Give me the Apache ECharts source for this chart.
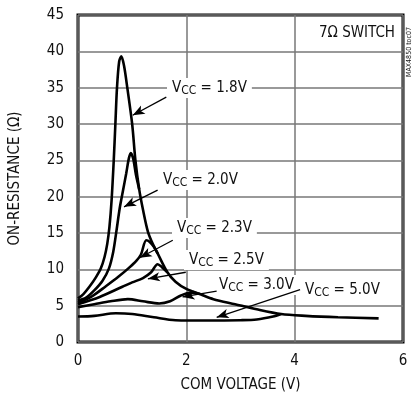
<!DOCTYPE html>
<html>
<head>
<meta charset="utf-8">
<script src="https://cdn.jsdelivr.net/npm/echarts@6.0.0/dist/echarts.min.js"></script>
<style>
  html, body { margin: 0; padding: 0; background: #fff; }
  #chart { width: 413px; height: 399px; }
</style>
</head>
<body>
<div id="chart"></div>
<script>
// on-resistance vs com voltage, one curve per supply voltage
const vcc18 = [[0, 6.0], [0.1, 6.6], [0.21, 7.6], [0.33, 8.9], [0.42, 10.1], [0.49, 11.7], [0.54, 13.5], [0.58, 15.8],
  [0.62, 19.5], [0.66, 25], [0.69, 30], [0.72, 35], [0.76, 38.6], [0.8, 39.3], [0.85, 38], [0.91, 35], [1.0, 30],
  [1.06, 25], [1.13, 21], [1.2, 18.2], [1.29, 15.2], [1.38, 13.5], [1.47, 12.2], [1.65, 9.6], [1.8, 8.3], [2.0, 7.3],
  [2.25, 6.6], [2.5, 5.9], [2.9, 5.2], [3.3, 4.5], [3.75, 3.85], [4.2, 3.6], [4.8, 3.4], [5.55, 3.25]]
const vcc20 = [[0, 5.7], [0.15, 6.1], [0.3, 7.1], [0.45, 8.4], [0.57, 10.1], [0.65, 12.4], [0.71, 15.3], [0.77, 18.4],
  [0.83, 20.8], [0.89, 23.2], [0.94, 25.3], [0.975, 26], [1.02, 25.2], [1.07, 23], [1.13, 21]]
const vcc23 = [[0, 5.4], [0.24, 6.2], [0.52, 7.7], [0.75, 9.0], [0.94, 10.2], [1.08, 11.2], [1.16, 12.0],
  [1.26, 14.0], [1.32, 13.8], [1.4, 13.1], [1.47, 12.2]]
const vcc25 = [[0, 5.2], [0.4, 6.2], [0.82, 7.6], [1.0, 8.2], [1.2, 8.8], [1.35, 9.6], [1.47, 10.7], [1.55, 10.3], [1.65, 9.6]]
const vcc30 = [[0, 4.8], [0.3, 5.2], [0.6, 5.6], [0.92, 5.9], [1.2, 5.6], [1.5, 5.3], [1.7, 5.6], [1.9, 6.4],
  [2.08, 6.8], [2.25, 6.6]]
const vcc50 = [[0, 3.5], [0.3, 3.6], [0.7, 3.95], [1.0, 3.85], [1.4, 3.4], [1.8, 3.0], [2.4, 2.95], [3.0, 3.0],
  [3.3, 3.1], [3.6, 3.5], [3.75, 3.85]]

const curves = [vcc18, vcc20, vcc23, vcc25, vcc30, vcc50]
const vccNames = ['1.8', '2.0', '2.3', '2.5', '3.0', '5.0']

// leader arrows, in axis units: [from, to]
const arrows = [
  [[1.63, 33.7], [1.01, 31.2]],
  [[1.47, 20.9], [0.85, 18.6]],
  [[1.75, 14.0], [1.14, 11.6]],
  [[1.99, 9.6], [1.29, 8.7]],
  [[2.56, 7.0], [1.93, 6.2]],
  [[4.10, 7.2], [2.56, 3.4]]
]
// label anchors (left edge of box, middle) in pixels
const labelPos = [[167, 88], [158, 180], [172, 228], [184, 260], [214, 285], [300, 290]]

const FONT = "'Liberation Sans Narrow', 'DejaVu Sans Condensed', 'Roboto', sans-serif"

const chart = echarts.init(document.getElementById('chart'))

const series = curves.map((d, i) => ({
  name: vccNames[i],
  type: 'line',
  data: d,
  smooth: 0.3,
  symbol: 'none',
  lineStyle: { color: '#000', width: 2.6 },
  z: 3
}))
series[0].markLine = {
  silent: true,
  symbol: ['none', 'arrow'],
  symbolSize: [7, 12],
  label: { show: false },
  lineStyle: { color: '#000', width: 1.3, type: 'solid' },
  data: arrows.map(a => [{ coord: a[0] }, { coord: a[1] }])
}

const labels = vccNames.map((v, i) => ({
  type: 'text',
  x: labelPos[i][0],
  y: labelPos[i][1],
  z: 1,
  style: {
    text: '{a|V}{b|CC}{a| = ' + v + 'V}',
    align: 'left',
    verticalAlign: 'middle',
    backgroundColor: '#fff',
    padding: [1, 5],
    rich: {
      a: { fontSize: 15, fontFamily: FONT, fill: '#111' },
      b: { fontSize: 12, fontFamily: FONT, fill: '#111', padding: [6, 0, 0, 0] }
    }
  }
}))

chart.setOption({
  animation: false,
  grid: {
    left: 77, right: 10, top: 15, bottom: 57,
    show: true,
    borderColor: '#000',
    borderWidth: 3
  },
  xAxis: {
    type: 'value',
    min: 0, max: 6, interval: 2,
    name: 'COM VOLTAGE (V)',
    nameLocation: 'middle',
    nameGap: 36,
    nameTextStyle: { fontSize: 15, fontFamily: FONT, color: '#111' },
    axisLine: { show: false },
    axisTick: { show: false },
    axisLabel: { fontSize: 15, fontFamily: FONT, color: '#111', margin: 12 },
    splitLine: { show: true, lineStyle: { color: '#777', width: 1.5 } }
  },
  yAxis: {
    type: 'value',
    min: 0, max: 45, interval: 5,
    name: 'ON-RESISTANCE (Ω)',
    nameLocation: 'middle',
    nameGap: 55,
    nameTextStyle: { fontSize: 15, fontFamily: FONT, color: '#111' },
    axisLine: { show: false },
    axisTick: { show: false },
    axisLabel: { fontSize: 15, fontFamily: FONT, color: '#111', margin: 14 },
    splitLine: { show: true, lineStyle: { color: '#777', width: 1.5 } }
  },
  graphic: labels.concat([
    {
      type: 'text', x: 395, y: 33, z: 1,
      style: { text: '7Ω SWITCH', align: 'right', verticalAlign: 'middle', fontSize: 15, fontFamily: FONT, fill: '#111' }
    },
    {
      type: 'text', x: 409, y: 52, rotation: Math.PI / 2, z: 1,
      style: { text: 'MAX4850 toc07', align: 'center', verticalAlign: 'middle', fontSize: 7, fontFamily: FONT, fill: '#111' }
    }
  ]),
  series: series
})
</script>
</body>
</html>
